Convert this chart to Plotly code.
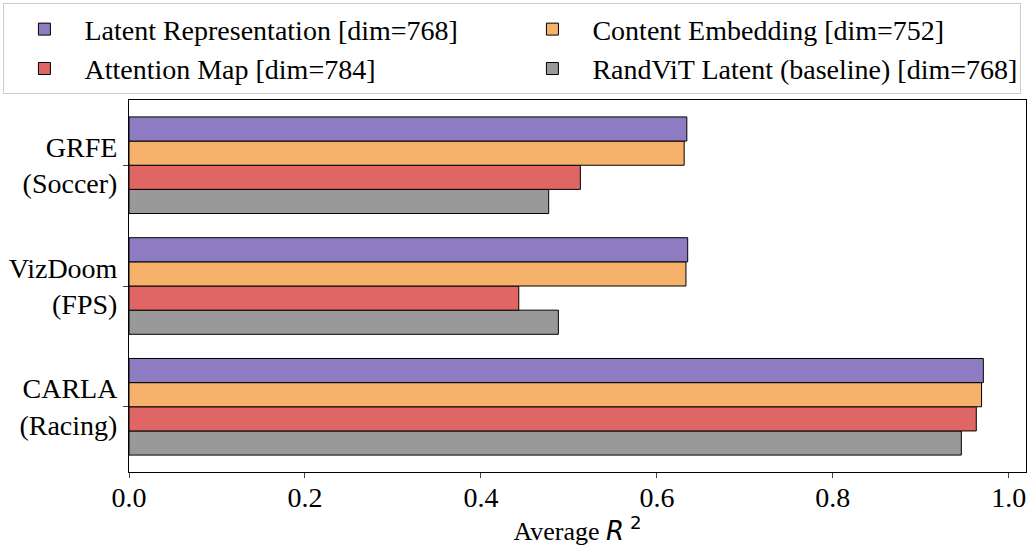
import plotly.graph_objects as go

categories = ["CARLA<br>(Racing)", "VizDoom<br>(FPS)", "GRFE<br>(Soccer)"]

series_names = [
    "Latent Representation [dim=768]",
    "Content Embedding [dim=752]",
    "Attention Map [dim=784]",
    "RandViT Latent (baseline) [dim=768]",
]
latent = [0.971, 0.635, 0.634]
content = [0.969, 0.633, 0.631]
attention = [0.963, 0.443, 0.513]
randvit = [0.946, 0.488, 0.477]
colors = ["#8e7cc3", "#f6b26b", "#e06666", "#999999"]

values = [latent, content, attention, randvit]

fig = go.Figure()

# plotly stacks the first trace at the bottom of a horizontal group, so add in reverse
for name, vals, color in reversed(list(zip(series_names, values, colors))):
    fig.add_trace(
        go.Bar(
            x=vals, y=categories, orientation="h", name=name,
            marker=dict(color=color, line=dict(color="black", width=1)),
        )
    )

fig.update_layout(
    template="simple_white", width=1029, height=546,
    barmode="group", bargap=0.2, bargroupgap=0,
    font=dict(family="Liberation Serif", size=28, color="black"),
    margin=dict(l=129, r=3, t=95, b=74),
    legend=dict(
        orientation="h", traceorder="reversed",
        x=-0.14, y=1.015, xanchor="left", yanchor="bottom",
        entrywidth=423, entrywidthmode="pixels", itemwidth=70,
        bordercolor="#cccccc", borderwidth=1,
        font=dict(size=28), tracegroupgap=0,
    ),
    xaxis=dict(
        title=dict(
            text="Average <span style='font-family:DejaVu Sans'><i>R</i><sup> 2</sup></span>",
            standoff=2, font=dict(size=26),
        ),
        range=[0, 1.0195], tickvals=[0, 0.2, 0.4, 0.6, 0.8, 1.0],
        ticktext=["0.0", "0.2", "0.4", "0.6", "0.8", "1.0"],
        ticks="outside", ticklen=5, mirror=True, linecolor="black",
        tickfont=dict(size=28), ticklabelstandoff=-5,
    ),
    yaxis=dict(
        categoryorder="array", categoryarray=categories,
        range=[-0.54, 2.54], ticks="outside", ticklen=5,
        mirror=True, linecolor="black", tickfont=dict(size=28),
    ),
)

# drop the default page margin so the figure sits at the window corner
fig.write_html(
    "out.html",
    config={"displayModeBar": False},
    post_script="document.body.style.margin='0';",
)
